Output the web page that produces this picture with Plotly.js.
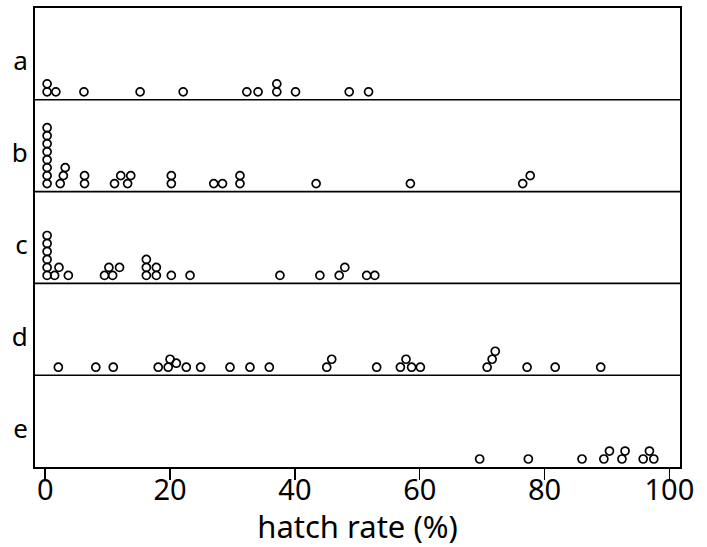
<!DOCTYPE html>
<html>
<head>
<meta charset="utf-8">
<script src="https://cdn.plot.ly/plotly-3.0.1.min.js"></script>
<style>html,body{margin:0;padding:0;background:#fff;}#chart{width:707px;height:547px;}</style>
</head>
<body>
<div id="chart"></div>
<script>
// Group labels (top to bottom)
var groups = ["a", "b", "c", "d", "e"];

// Hatch rate values (%) and stack level of each point, per group
var aX = [0.3, 0.3, 1.7, 6.2, 15.2, 22.1, 32.3, 34.1, 37.1, 37.1, 40.1, 48.7, 51.8];
var aLevel = [0, 1, 0, 0, 0, 0, 0, 0, 0, 1, 0, 0, 0];

var bX = [0.3, 0.3, 0.3, 0.3, 0.3, 0.3, 0.3, 0.3, 2.4, 2.9, 3.2, 6.3, 6.3, 11.1, 12.1, 13.2, 13.7,
          20.2, 20.2, 27.0, 28.4, 31.2, 31.2, 43.4, 58.5, 76.5, 77.7];
var bLevel = [0, 1, 2, 3, 4, 5, 6, 7, 0, 1, 2, 0, 1, 0, 1, 0, 1,
              0, 1, 0, 0, 0, 1, 0, 0, 0, 1];

var cX = [0.3, 0.3, 0.3, 0.3, 0.3, 0.3, 1.5, 2.2, 3.7, 9.5, 10.2, 10.8, 11.9, 16.2, 16.2, 16.2,
          17.8, 17.8, 20.2, 23.2, 37.6, 44.0, 47.1, 48.0, 51.5, 52.8];
var cLevel = [0, 1, 2, 3, 4, 5, 0, 1, 0, 0, 1, 0, 1, 0, 1, 2,
              0, 1, 0, 0, 0, 0, 0, 1, 0, 0];

var dX = [2.1, 8.1, 10.9, 18.1, 19.7, 20.0, 21.0, 22.6, 24.9, 29.6, 32.8, 35.9, 45.1, 45.9, 53.1,
          56.9, 57.8, 58.7, 60.1, 70.8, 71.6, 72.1, 77.2, 81.7, 89.0];
var dLevel = [0, 0, 0, 0, 0, 1, 0.5, 0, 0, 0, 0, 0, 0, 1, 0,
              0, 1, 0, 0, 0, 1, 2, 0, 0, 0];

var eX = [69.6, 77.4, 86.0, 89.5, 90.4, 92.4, 92.9, 95.8, 96.8, 97.5];
var eLevel = [0, 0, 0, 0, 1, 0, 1, 0, 1, 0];

var xTicks = [0, 20, 40, 60, 80, 100];

var seriesX = [aX, bX, cX, dX, eX];
var seriesL = [aLevel, bLevel, cLevel, dLevel, eLevel];

var step = 0.087; // vertical spacing of stacked points (in panel units)
var traces = [];
for (var g = 0; g < groups.length; g++) {
  var base = groups.length - 1 - g; // a at top
  var ys = seriesL[g].map(function (l) { return base + (l + 1) * step; });
  traces.push({
    type: "scatter", mode: "markers", name: groups[g],
    x: seriesX[g], y: ys,
    marker: { symbol: "circle-open", size: 8, color: "#000", line: { width: 1.7, color: "#000" } },
    hoverinfo: "x", showlegend: false, cliponaxis: false
  });
}

var shapes = [];
for (var k = 1; k < groups.length; k++) {
  shapes.push({ type: "line", xref: "paper", yref: "y", x0: 0, x1: 1, y0: k, y1: k,
                line: { color: "#000", width: 1.6 } });
}

var font = "Noto Sans, Open Sans, Liberation Sans, sans-serif";
var layout = {
  width: 707, height: 547,
  margin: { l: 35, r: 27, t: 8, b: 80 },
  paper_bgcolor: "#fff", plot_bgcolor: "#fff",
  showlegend: false,
  xaxis: {
    range: [-1.64, 101.7], tickvals: xTicks, ticktext: xTicks.map(String),
    ticks: "outside", ticklen: 11, tickwidth: 1.5, tickcolor: "#000",
    ticklabelstandoff: -15,
    showline: true, linecolor: "#000", linewidth: 2, mirror: true,
    showgrid: false, zeroline: false,
    tickfont: { family: font, size: 29, color: "#000" },
    title: { text: "hatch rate (%)", font: { family: font, size: 31, color: "#000" }, standoff: 16 }
  },
  yaxis: {
    range: [0, 5], tickvals: [4.42, 3.42, 2.42, 1.42, 0.42], ticktext: groups,
    ticks: "", showline: true, linecolor: "#000", linewidth: 2, mirror: true,
    showgrid: false, zeroline: false, fixedrange: true,
    tickfont: { family: font, size: 26, color: "#000" }
  },
  shapes: shapes
};

Plotly.newPlot("chart", traces, layout, { displayModeBar: false, staticPlot: true });
</script>
</body>
</html>
